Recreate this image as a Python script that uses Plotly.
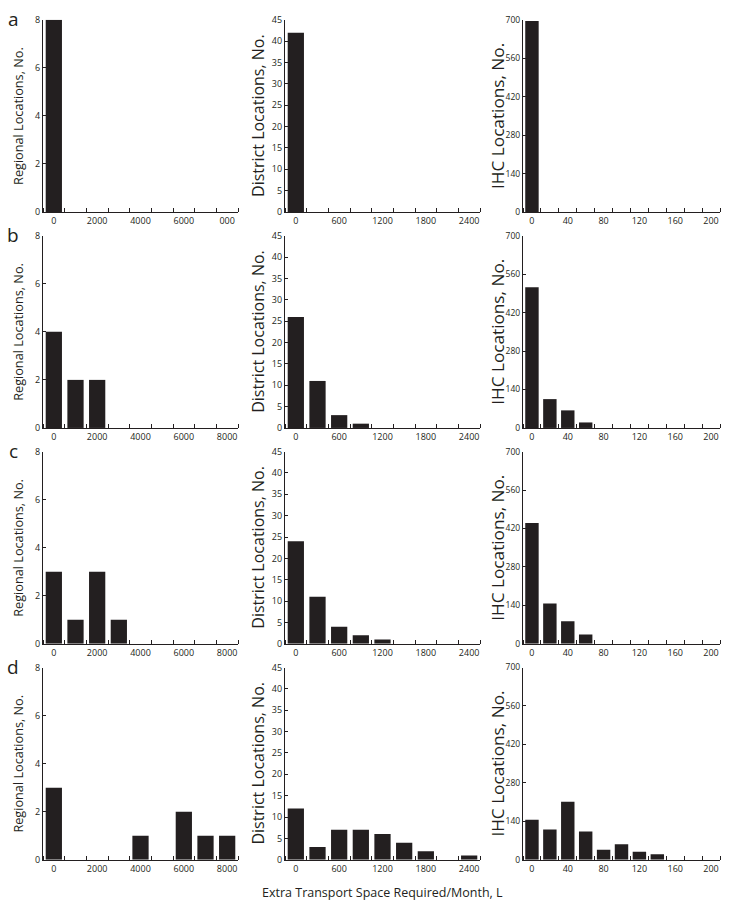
import plotly.graph_objects as go

# ---- data ----
rows = ["a", "b", "c", "d"]

regional_bins = [0, 1000, 2000, 3000, 4000, 5000, 6000, 7000, 8000]
district_bins = [0, 300, 600, 900, 1200, 1500, 1800, 2100, 2400]
ihc_bins = [0, 20, 40, 60, 80, 100, 120, 140, 160, 180, 200]

regional_a = [8, 0, 0, 0, 0, 0, 0, 0, 0]
regional_b = [4, 2, 2, 0, 0, 0, 0, 0, 0]
regional_c = [3, 1, 3, 1, 0, 0, 0, 0, 0]
regional_d = [3, 0, 0, 0, 1, 0, 2, 1, 1]

district_a = [42, 0, 0, 0, 0, 0, 0, 0, 0]
district_b = [26, 11, 3, 1, 0, 0, 0, 0, 0]
district_c = [24, 11, 4, 2, 1, 0, 0, 0, 0]
district_d = [12, 3, 7, 7, 6, 4, 2, 0, 1]

ihc_a = [696, 0, 0, 0, 0, 0, 0, 0, 0, 0, 0]
ihc_b = [512, 105, 64, 20, 0, 0, 0, 0, 0, 0, 0]
ihc_c = [440, 147, 82, 34, 0, 0, 0, 0, 0, 0, 0]
ihc_d = [146, 110, 211, 103, 36, 56, 29, 20, 0, 0, 0]

regional_ticks = [0, 2000, 4000, 6000, 8000]
regional_ticktext_a = ["0", "2000", "4000", "6000", "000"]
regional_ticktext = ["0", "2000", "4000", "6000", "8000"]
district_ticks = [0, 600, 1200, 1800, 2400]
ihc_ticks = [0, 40, 80, 120, 160, 200]

regional_y = [0, 2, 4, 6, 8]
district_y = [0, 5, 10, 15, 20, 25, 30, 35, 40, 45]
ihc_y = [0, 140, 280, 420, 560, 700]

ytitles = ["Regional Locations, No.", "District Locations, No.", "IHC Locations, No."]
xtitle = "Extra Transport Space Required/Month, L"

# ---- layout geometry (window pixels) ----
W, H = 729, 917


def px(x):
    return x / W


def py(y):
    return 1 - y / H


col_x0 = [43, 285, 523]
col_x1 = [238, 480, 720]
row_top = [13, 232, 451, 670]
row_bot = [208, 427, 646, 865]
title_x = [18, 258, 498]
title_size = [12.7, 16.0, 17.2]
ytick_size = [9, 9, 8.5]

INK = "#231f20"
FONT = "Open Sans"

series = {
    0: [regional_a, regional_b, regional_c, regional_d],
    1: [district_a, district_b, district_c, district_d],
    2: [ihc_a, ihc_b, ihc_c, ihc_d],
}
bins = {0: regional_bins, 1: district_bins, 2: ihc_bins}
binw = {0: 1000, 1: 300, 2: 20}
xticks = {0: regional_ticks, 1: district_ticks, 2: ihc_ticks}
yticks = {0: regional_y, 1: district_y, 2: ihc_y}
yrange = {0: [0, 8], 1: [0, 45], 2: [0, 700]}

fig = go.Figure()
layout = dict(
    width=W, height=H,
    margin=dict(l=0, r=0, t=0, b=0),
    paper_bgcolor="white", plot_bgcolor="white",
    showlegend=False,
    font=dict(family=FONT, color=INK),
)
annotations = []

idx = 0
for r in range(4):
    for c in range(3):
        idx += 1
        xa = "x" if idx == 1 else f"x{idx}"
        ya = "y" if idx == 1 else f"y{idx}"
        bw = binw[c]
        b = bins[c]
        fig.add_trace(go.Bar(
            x=b, y=series[c][r], width=0.75 * bw,
            marker=dict(color=INK, line=dict(width=0)),
            xaxis=xa, yaxis=ya, hoverinfo="x+y",
        ))
        ttext = [str(v) for v in xticks[c]]
        if c == 0:
            ttext = regional_ticktext_a if r == 0 else regional_ticktext
        xkey = "xaxis" if idx == 1 else f"xaxis{idx}"
        ykey = "yaxis" if idx == 1 else f"yaxis{idx}"
        layout[xkey] = dict(
            domain=[px(col_x0[c]), px(col_x1[c])],
            anchor=ya,
            range=[b[0] - bw / 2, b[-1] + bw / 2],
            tickmode="array", tickvals=xticks[c], ticktext=ttext,
            ticks="", showgrid=False, zeroline=False,
            showline=True, linecolor=INK, linewidth=1.3,
            tickfont=dict(size=9, family=FONT, color=INK),
            minor=dict(tickmode="linear", tick0=b[0] + bw / 2, dtick=bw,
                       ticks="inside", ticklen=4, tickwidth=1, tickcolor=INK,
                       showgrid=False),
            fixedrange=True,
        )
        layout[ykey] = dict(
            domain=[py(row_bot[r]), py(row_top[r])],
            anchor=xa,
            range=yrange[c],
            tickmode="array", tickvals=yticks[c],
            ticks="inside", ticklen=3, tickwidth=1, tickcolor=INK,
            showgrid=False, zeroline=False,
            showline=True, linecolor=INK, linewidth=1.3,
            tickfont=dict(size=ytick_size[c], family=FONT, color=INK),
            fixedrange=True,
        )
        # y-axis title
        annotations.append(dict(
            text=ytitles[c], textangle=-90, showarrow=False,
            xref="paper", yref="paper",
            x=px(title_x[c]), y=py((row_top[r] + row_bot[r]) / 2),
            xanchor="center", yanchor="middle",
            font=dict(size=title_size[c], family=FONT, color=INK),
        ))
    # panel letter
    annotations.append(dict(
        text=rows[r], showarrow=False, xref="paper", yref="paper",
        x=px(13), y=py(row_top[r] - 1), xanchor="center", yanchor="middle",
        font=dict(size=19, family=FONT, color=INK),
    ))

annotations.append(dict(
    text=xtitle, showarrow=False, xref="paper", yref="paper",
    x=px(382), y=py(898), xanchor="center", yanchor="middle",
    font=dict(size=12.5, family=FONT, color=INK),
))
layout["annotations"] = annotations
fig.update_layout(**layout)

# remove the browser's default page margin so the 729x917 figure fills the window
page_fix = ("document.body.style.margin='0';"
            "document.body.style.padding='0';"
            "document.body.style.overflow='hidden';")
fig.write_html("out.html", post_script=page_fix,
               config={"displayModeBar": False})
